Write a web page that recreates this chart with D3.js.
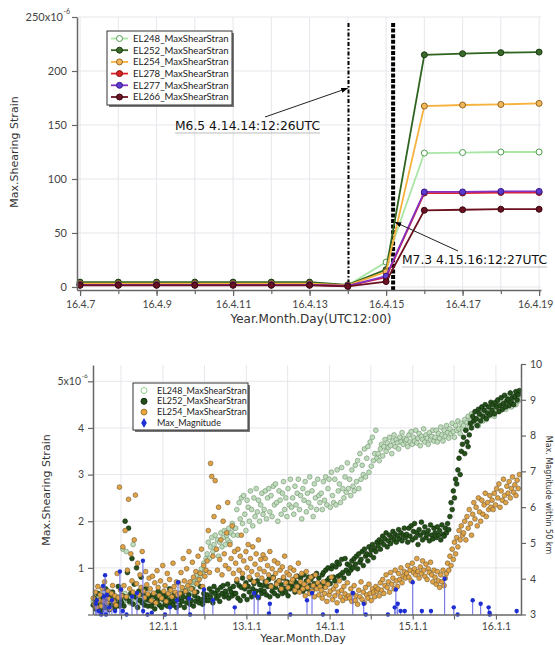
<!DOCTYPE html>
<html><head><meta charset="utf-8">
<script src="https://cdn.jsdelivr.net/npm/d3@7"></script>
<style>body{margin:0;background:#fff} svg{display:block} text{font-family:"DejaVu Sans",sans-serif}</style>
</head><body><svg id="c" width="555" height="645"></svg>
<script>
// ================= TOP PANEL DATA (April 2016, UTC12:00, x1e-6) =================
const topDays = [7,8,9,10,11,12,13,14,15,16,17,18,19];
const topTickDays = [7,9,11,13,15,17,19];
const topTickLabels = ["16.4.7","16.4.9","16.4.11","16.4.13","16.4.15","16.4.17","16.4.19"];
const topYTicks = [0,50,100,150,200,250];
const topNames = ["EL248_MaxShearStran","EL252_MaxShearStran","EL254_MaxShearStran","EL278_MaxShearStran","EL277_MaxShearStran","EL266_MaxShearStran"];
const el248Top = [3,3,3,3,3,3,3,1.5,23,124,124.5,125,125];
const el252Top = [4.5,4.5,4.5,4.5,4.5,4.5,4.5,2,16,215,216,217,217.5];
const el254Top = [3,3,3,3,3,3,3,1.5,14,167.5,168.5,169,170];
const el278Top = [2,2,2,2,2,2,2,1,9,87,87,87.5,87.5];
const el277Top = [2,2,2,2,2,2,2,1,10,88,88,88.5,88.5];
const el266Top = [1.5,1.5,1.5,1.5,1.5,1.5,1.5,0.5,5,71,71.5,72,72];
const quakeNames = ["M6.5 4.14.14:12:26UTC","M7.3 4.15.16:12:27UTC"];
const quakeDays = [14.018, 15.184];
const quakeArrowVals = [184, 60];

// ================= BOTTOM PANEL DATA =================
// samples every 5 days from 2011-03-01, values in 0.01 x1e-6
const sampleStart = "2011-03-01";
const sampleStepDays = 5;
const el248 = [
28,35,22,40,30,18,45,32,25,38,20,42,30,35,25,48,28,33,22,40,30,26,38,34,28,
32,140,28,45,135,30,38,25,42,30,150,35,28,40,33,25,45,30,38,28,42,35,30,40,32,
35,28,42,38,30,45,33,40,28,36,44,32,38,30,42,35,40,28,46,34,38,30,44,36,40,
42,38,48,35,52,45,40,58,50,62,55,48,70,60,75,68,85,72,90,80,98,88,110,95,120,
130,155,120,145,165,135,150,170,140,160,125,155,175,145,165,180,150,170,160,185,155,175,195,170,185,
185,225,170,240,205,250,195,255,215,180,245,230,200,265,225,190,250,210,270,220,245,200,235,260,215,
225,265,205,250,270,220,255,210,275,235,280,240,200,265,245,215,260,285,225,250,210,270,235,290,230,
250,215,275,235,260,290,225,255,205,270,245,285,220,260,240,295,230,265,210,280,250,225,290,255,240,
260,225,285,245,295,235,270,290,230,305,255,240,290,235,310,265,280,240,315,270,250,295,262,325,270,
290,255,310,275,265,320,285,330,270,345,290,320,300,355,295,335,360,305,370,318,380,330,345,395,335,
345,330,355,365,340,360,375,350,368,358,380,362,345,372,385,360,375,368,355,380,370,390,365,378,372,
375,360,385,370,392,365,380,372,395,368,378,388,362,382,375,398,370,385,378,365,390,375,382,395,372,
380,395,370,388,378,402,385,372,395,382,405,390,378,398,388,410,392,380,405,395,415,398,388,410,400,
405,418,395,412,425,402,415,430,408,420,412,435,418,405,428,420,440,415,425,432,418,438,425,445,428,
432,445,425,440,452,435,448,460,438,450,445,462,440,455,448,470,452,445,460,458,475,450,465,458,470];
const el252 = [
20,35,12,28,45,18,30,8,40,22,15,55,25,32,10,38,20,48,28,14,35,22,60,18,30,
25,40,18,200,35,90,185,28,45,120,22,65,38,100,15,50,30,80,25,42,20,55,32,18,40,
30,18,42,25,12,38,28,50,20,35,15,45,32,22,40,18,30,55,25,35,20,42,28,15,38,
32,20,45,28,38,15,50,25,35,42,22,30,55,18,40,28,48,35,25,60,32,22,45,38,30,
42,30,55,38,48,25,60,45,35,52,40,28,58,45,62,38,50,42,65,35,55,48,40,60,45,
45,70,35,62,30,58,78,40,55,68,32,60,48,75,38,55,66,42,50,72,36,64,52,45,62,
50,70,42,60,75,38,62,50,80,45,58,68,40,72,52,64,45,78,56,48,70,40,66,55,62,
58,75,48,68,82,52,62,78,60,50,85,58,72,55,80,62,75,50,82,66,58,88,65,78,60,
65,85,90,60,95,72,100,78,66,98,105,80,72,102,112,82,108,85,118,90,78,120,95,108,88,
105,95,115,100,120,108,125,98,130,112,118,135,105,140,125,130,115,145,128,138,150,122,142,135,155,
148,160,140,155,168,150,162,175,145,158,170,152,165,178,160,172,155,168,182,162,175,158,170,185,165,
172,155,185,168,190,160,178,195,165,175,150,182,170,198,160,176,188,165,172,180,158,192,170,162,185,
175,165,188,170,180,160,192,172,168,185,175,195,182,210,240,225,265,250,290,280,310,335,300,350,365,
380,345,395,370,360,385,410,400,425,415,435,420,405,440,430,415,445,425,438,450,420,432,445,428,455,
438,450,430,455,445,460,435,448,465,440,452,470,445,458,462,448,475,455,465,450,468,478,460,472,480];
const el254 = [
35,22,48,15,60,30,42,18,55,28,70,38,25,50,33,12,45,62,28,40,20,88,36,273,52,
40,145,62,180,38,95,247,55,130,72,48,160,256,66,110,42,85,58,135,50,36,92,64,44,78,
55,30,82,46,68,25,94,58,40,72,35,105,50,62,28,88,45,75,52,38,110,60,48,70,42,
68,45,90,58,120,72,50,98,62,135,70,55,112,80,48,92,66,125,75,88,140,60,105,82,95,
115,180,90,324,296,125,210,287,140,95,230,118,160,85,200,130,105,175,240,98,150,120,190,88,135,
110,75,140,95,125,170,88,115,62,135,100,150,80,120,92,145,70,108,130,85,160,98,118,78,128,
92,120,70,105,85,135,60,98,78,115,88,65,110,72,95,55,102,80,125,68,90,58,85,100,70,
75,95,52,82,60,110,48,70,88,55,65,40,92,58,72,45,80,50,62,38,85,55,68,42,60,
52,35,70,45,58,28,65,42,50,80,32,55,40,62,25,48,72,38,52,30,60,44,35,68,40,
35,55,28,45,62,30,40,22,52,38,70,32,48,25,58,42,35,65,45,30,55,48,38,60,50,
55,40,68,52,75,45,62,85,58,70,48,90,65,78,55,95,72,60,88,75,100,68,82,92,78,
88,105,80,95,72,110,90,98,85,120,92,78,102,88,115,95,82,108,75,98,90,112,85,70,95,
80,65,92,72,58,85,70,95,62,78,88,110,95,125,105,140,118,155,130,165,145,180,160,190,170,
175,200,160,210,185,225,195,170,215,240,205,230,190,250,220,200,245,215,235,260,210,240,225,255,230,
245,225,260,235,270,250,280,230,265,245,290,255,240,275,260,285,250,270,295,262,278,255,288,270,300];
const quakeDates = ["2011-03-12","2011-03-17","2011-03-25","2011-04-05","2011-04-13","2011-04-17","2011-04-22","2011-04-26","2011-04-30","2011-05-10","2011-05-22","2011-06-05","2011-06-26","2011-07-01","2011-07-09","2011-07-25","2011-08-18","2011-09-09","2011-10-05","2011-10-06","2011-10-25","2011-11-13","2012-01-10","2012-02-01","2012-03-03","2012-03-07","2012-04-25","2012-04-29","2012-06-29","2012-08-07","2012-11-11","2013-02-04","2013-02-21","2013-04-10","2013-04-14","2013-07-13","2013-09-24","2013-10-16","2013-12-03","2014-02-02","2014-04-13","2014-05-31","2014-06-09","2014-09-14","2014-10-14","2014-10-19","2014-10-27","2014-11-09","2014-11-27","2015-01-01","2015-02-10","2015-03-22","2015-05-21","2015-06-30","2015-07-17","2015-09-21","2015-10-26","2015-11-30","2015-12-04","2015-12-05","2016-04-01"];
const quakeMags = [3.3,3.4,3.1,3.0,3.8,3.5,4.1,3.0,3.55,3.2,3.4,3.1,4.2,3.7,3.1,3.0,3.5,3.6,4.5,3.1,3.0,3.05,3.0,3.2,3.4,3.9,3.45,3.0,3.7,3.4,3.2,3.6,3.5,3.03,3.3,3.0,3.4,3.6,3.0,3.1,3.6,3.3,3.0,3.0,3.2,3.7,3.3,3.1,3.1,3.9,3.1,3.1,4.0,3.2,3.0,3.4,3.3,3.2,3.05,3.0,3.1];
const botTickDates = ["2011-07-01","2012-01-01","2012-07-01","2013-01-01","2013-07-01","2014-01-01","2014-07-01","2015-01-01","2015-07-01","2016-01-01"];
const botTickLabels = {"2012-01-01":"12.1.1","2013-01-01":"13.1.1","2014-01-01":"14.1.1","2015-01-01":"15.1.1","2016-01-01":"16.1.1"};
const botLeftTicks = [0,1,2,3,4,5];
const botRightTicks = [3,4,5,6,7,8,9,10];
const botNames = ["EL248_MaxShearStran","EL252_MaxShearStran","EL254_MaxShearStran","Max_Magnitude"];

// ================= DRAW =================
const svg = d3.select("#c");
const gridCol = "#e6e6ec", axisCol = "#666", tickTxt = "#444";
const tickFont = 'Lato,"DejaVu Sans",sans-serif';
function styleAxis(g, fs){
  g.select(".domain").attr("stroke", axisCol).attr("stroke-width", 1.5);
  g.selectAll(".tick line").attr("stroke", axisCol).attr("stroke-width", 1.2);
  g.selectAll(".tick text").attr("fill", tickTxt).style("font-size", fs + "px").style("font-family", tickFont);
}

// ---------- TOP ----------
const tx = d3.scaleLinear().domain([6.92, 19.05]).range([77, 541]);
const ty = d3.scaleLinear().domain([-2.8, 250]).range([290, 17]);
const gt = svg.append("g");
gt.selectAll(".vg").data(topDays).join("line")
  .attr("x1", d => tx(d)).attr("x2", d => tx(d)).attr("y1", ty(250)).attr("y2", ty(-2.8))
  .attr("stroke", gridCol).attr("stroke-width", 1);
gt.selectAll(".hg").data(topYTicks).join("line")
  .attr("x1", tx.range()[0]).attr("x2", tx.range()[1]).attr("y1", d => ty(d)).attr("y2", d => ty(d))
  .attr("stroke", gridCol).attr("stroke-width", 1);

// quake lines
const qStyles = [{w:2, dash:"4,2,1.5,2"}, {w:4, dash:"4,1.6"}];
quakeDays.forEach((d, i) => {
  gt.append("line").attr("x1", tx(d)).attr("x2", tx(d)).attr("y1", 23).attr("y2", ty(-2.8))
    .attr("stroke", "#000").attr("stroke-width", qStyles[i].w).attr("stroke-dasharray", qStyles[i].dash);
});

const topSeries = [
  {v: el248Top, line: "#a9e6a4", fill: "#ffffff", stroke: "#4e9a4a"},
  {v: el252Top, line: "#2f6420", fill: "#3a6a2a", stroke: "#1c3a12"},
  {v: el254Top, line: "#f7b23e", fill: "#f1b75a", stroke: "#94661e"},
  {v: el278Top, line: "#e3212b", fill: "#dc2323", stroke: "#7a1010"},
  {v: el277Top, line: "#8430c2", fill: "#5b3acd", stroke: "#371b8c"},
  {v: el266Top, line: "#6d1121", fill: "#6a1222", stroke: "#360810"}
];
const lineGen = d3.line().x((d, i) => tx(topDays[i])).y(d => ty(d));
topSeries.forEach(s => {
  gt.append("path").datum(s.v).attr("d", lineGen).attr("fill", "none")
    .attr("stroke", s.line).attr("stroke-width", 1.8);
  gt.selectAll(null).data(s.v).join("circle")
    .attr("cx", (d, i) => tx(topDays[i])).attr("cy", d => ty(d)).attr("r", 3)
    .attr("fill", s.fill).attr("stroke", s.stroke).attr("stroke-width", 1);
});

// axes
const tyAx = gt.append("g").attr("transform", `translate(${tx.range()[0]},0)`)
  .call(d3.axisLeft(ty).tickValues(topYTicks).tickSize(5).tickSizeOuter(0).tickPadding(5)
    .tickFormat(d => d === 250 ? "" : d));
styleAxis(tyAx, 11);
gt.append("text").attr("x", 63).attr("y", ty(250)).attr("dy", "0.35em").style("font-family", tickFont)
  .attr("text-anchor", "end").attr("fill", tickTxt).style("font-size", "11px").text("250x10");
gt.append("text").attr("x", 63.5).attr("y", ty(250) - 3.5).attr("fill", tickTxt).style("font-family", tickFont)
  .style("font-size", "7px").text("-6");

const txMinor = gt.append("g").attr("transform", `translate(0,${ty.range()[0]})`)
  .call(d3.axisBottom(tx).tickValues(topDays).tickSize(4).tickSizeOuter(0).tickFormat(""));
styleAxis(txMinor, 10);
const txAx = gt.append("g").attr("transform", `translate(0,${ty.range()[0]})`)
  .call(d3.axisBottom(tx).tickValues(topTickDays).tickSize(6).tickSizeOuter(0).tickPadding(5)
    .tickFormat((d, i) => topTickLabels[i]));
styleAxis(txAx, 10.5);
txAx.select(".domain").remove();
txAx.selectAll(".tick text").filter(d => d === 19).attr("dx", -4);

gt.append("text").attr("transform", "translate(18,152) rotate(-90)").attr("text-anchor", "middle")
  .attr("fill", "#333").style("font-size", "11px").text("Max.Shearing Strain");
gt.append("text").attr("x", 311).attr("y", 323).attr("text-anchor", "middle")
  .attr("fill", "#333").style("font-size", "12px").text("Year.Month.Day(UTC12:00)");

// annotations
svg.append("defs").append("marker").attr("id", "ah").attr("viewBox", "0 0 10 10")
  .attr("refX", 9).attr("refY", 5).attr("markerWidth", 7).attr("markerHeight", 7).attr("orient", "auto")
  .append("path").attr("d", "M0,1.5L10,5L0,8.5Z").attr("fill", "#000");
const ann = [
  {tx: 175, ty: 130, lx: 265, ly: 117},
  {tx: 402, ty: 264, lx: 458, ly: 251}
];
ann.forEach((a, i) => {
  const t = gt.append("text").attr("x", a.tx).attr("y", a.ty).attr("fill", "#111")
    .style("font-size", "12.3px").text(quakeNames[i]);
  const w = t.node().getComputedTextLength();
  gt.append("line").attr("x1", a.tx).attr("x2", a.tx + w).attr("y1", a.ty + 3).attr("y2", a.ty + 3)
    .attr("stroke", "#bbb").attr("stroke-width", 1);
  gt.append("line").attr("x1", a.lx).attr("y1", a.ly)
    .attr("x2", tx(quakeDays[i]) + (i ? 2 : -1)).attr("y2", ty(quakeArrowVals[i]))
    .attr("stroke", "#222").attr("stroke-width", 1).attr("marker-end", "url(#ah)");
});

// top legend
const lgT = gt.append("g");
lgT.append("rect").attr("x", 109).attr("y", 33).attr("width", 125).attr("height", 74).attr("fill", "#777");
lgT.append("rect").attr("x", 107).attr("y", 31).attr("width", 125).attr("height", 74)
  .attr("fill", "#fff").attr("stroke", "#333").attr("stroke-width", 1);
topNames.forEach((n, i) => {
  const y = 38.5 + i * 11.7, s = topSeries[i];
  lgT.append("line").attr("x1", 111).attr("x2", 128).attr("y1", y).attr("y2", y).attr("stroke", s.line).attr("stroke-width", 1.8);
  lgT.append("circle").attr("cx", 119.5).attr("cy", y).attr("r", 3).attr("fill", s.fill).attr("stroke", s.stroke);
  lgT.append("text").attr("x", 133).attr("y", y).attr("dy", "0.35em").attr("fill", "#222")
    .style("font-family", tickFont).style("font-size", "9.6px").text(n);
});

// ---------- BOTTOM ----------
const parse = d3.utcParse("%Y-%m-%d");
const bx = d3.scaleUtc().domain([parse("2011-02-28"), parse("2016-04-20")]).range([93, 521]);
const by = d3.scaleLinear().domain([0, 5.35]).range([614.5, 365]);
const byR = d3.scaleLinear().domain([3, 10]).range([614.5, 364]);
const gb = svg.append("g");
gb.selectAll(".vg").data(botTickDates).join("line")
  .attr("x1", d => bx(parse(d))).attr("x2", d => bx(parse(d))).attr("y1", 365).attr("y2", 614.5)
  .attr("stroke", gridCol);
gb.selectAll(".hg").data([1,2,3,4,5]).join("line")
  .attr("x1", 93).attr("x2", 521).attr("y1", d => by(d)).attr("y2", d => by(d)).attr("stroke", gridCol);

const t0 = parse(sampleStart);
const dateAt = i => d3.utcDay.offset(t0, i * sampleStepDays);
const botSeries = [
  {v: el248, fill: "#bfdcbc", stroke: "#6f906c"},
  {v: el252, fill: "#24501a", stroke: "#10280a"},
  {v: el254, fill: "#dfa244", stroke: "#725a32"}
];
botSeries.forEach(s => {
  gb.selectAll(null).data(s.v).join("circle")
    .attr("cx", (d, i) => bx(dateAt(i))).attr("cy", d => by(d / 100)).attr("r", 2.4)
    .attr("fill", s.fill).attr("stroke", s.stroke).attr("stroke-width", 0.6);
});
// magnitudes
gb.selectAll(".stem").data(quakeMags).join("line")
  .attr("x1", (d, i) => bx(parse(quakeDates[i]))).attr("x2", (d, i) => bx(parse(quakeDates[i])))
  .attr("y1", byR(3)).attr("y2", d => byR(d)).attr("stroke", "#6464e4").attr("stroke-width", 1);
gb.selectAll(".mk").data(quakeMags).join("circle")
  .attr("cx", (d, i) => bx(parse(quakeDates[i]))).attr("cy", d => byR(d)).attr("r", 2.2)
  .attr("fill", "#1d2fd2");

const byAx = gb.append("g").attr("transform", "translate(93,0)")
  .call(d3.axisLeft(by).tickValues(botLeftTicks).tickSize(5).tickSizeOuter(0).tickPadding(4)
    .tickFormat(d => (d === 0 || d === 5) ? "" : d));
styleAxis(byAx, 10.5);
gb.append("text").attr("x", 81).attr("y", by(5)).attr("dy", "0.35em").attr("text-anchor", "end").style("font-family", tickFont)
  .attr("fill", tickTxt).style("font-size", "10.5px").text("5x10");
gb.append("text").attr("x", 81.5).attr("y", by(5) - 3.5).attr("fill", tickTxt).style("font-family", tickFont)
  .style("font-size", "6.5px").text("-6");
const byRAx = gb.append("g").attr("transform", "translate(521,0)")
  .call(d3.axisRight(byR).tickValues(botRightTicks).tickSize(5).tickSizeOuter(0).tickPadding(4).tickFormat(d3.format("d")));
styleAxis(byRAx, 10.5);
const bxAx = gb.append("g").attr("transform", "translate(0,614.5)")
  .call(d3.axisBottom(bx).tickValues(botTickDates.map(parse)).tickSize(5).tickSizeOuter(0).tickPadding(3)
    .tickFormat(d => botTickLabels[d3.utcFormat("%Y-%m-%d")(d)] || ""));
styleAxis(bxAx, 10.5);

gb.append("text").attr("transform", "translate(50,490) rotate(-90)").attr("text-anchor", "middle")
  .attr("fill", "#333").style("font-size", "11px").text("Max.Shearing Strain");
gb.append("text").attr("transform", "translate(546,495) rotate(90)").attr("text-anchor", "middle")
  .attr("fill", "#333").style("font-size", "8px").text("Max. Magnitude within 50 km");
gb.append("text").attr("x", 303).attr("y", 641.5).attr("text-anchor", "middle")
  .attr("fill", "#333").style("font-size", "11px").text("Year.Month.Day");

// bottom legend
const lgB = gb.append("g");
lgB.append("rect").attr("x", 135).attr("y", 385).attr("width", 115).attr("height", 47).attr("fill", "#777");
lgB.append("rect").attr("x", 133).attr("y", 383).attr("width", 115).attr("height", 47)
  .attr("fill", "#fff").attr("stroke", "#333").attr("stroke-width", 1);
const lgSym = [
  {fill: "#fff", stroke: "#8fd08c"},
  {fill: "#24501a", stroke: "#10280a"},
  {fill: "#e8a640", stroke: "#a07a30"}
];
botNames.forEach((n, i) => {
  const y = 390.5 + i * 10.8;
  if (i < 3) {
    lgB.append("circle").attr("cx", 144).attr("cy", y).attr("r", 3).attr("fill", lgSym[i].fill)
      .attr("stroke", lgSym[i].stroke).attr("stroke-width", 1);
  } else {
    lgB.append("line").attr("x1", 144).attr("x2", 144).attr("y1", y).attr("y2", y + 4).attr("stroke", "#6464e4");
    lgB.append("path").attr("d", d3.symbol(d3.symbolDiamond, 28)).attr("transform", `translate(144,${y})`).attr("fill", "#1d2fd2");
  }
  lgB.append("text").attr("x", 157).attr("y", y).attr("dy", "0.35em").attr("fill", "#222")
    .style("font-family", tickFont).style("font-size", "9px").text(n);
});
</script></body></html>
